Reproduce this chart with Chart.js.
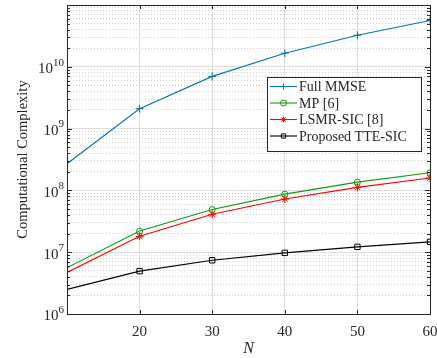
<!DOCTYPE html>
<html>
<head>
<meta charset="utf-8">
<script src="https://cdn.jsdelivr.net/npm/chart.js@4"></script>
<style>
  html, body { margin: 0; padding: 0; background: #fff; }
  #wrap { width: 437px; height: 358px; }
</style>
</head>
<body>
<div id="wrap"><canvas id="cplx" width="437" height="358"></canvas></div>
<script>
// values
const nValues = [10, 20, 30, 40, 50, 60];
const fullMMSE = [2.7e8, 2.1e9, 7.0e9, 1.66e10, 3.24e10, 5.6e10];
const mp = [5.6e6, 2.2e7, 4.9e7, 8.7e7, 1.36e8, 1.93e8];
const lsmrSIC = [4.7e6, 1.81e7, 4.1e7, 7.25e7, 1.12e8, 1.59e8];
const tteSIC = [2.5e6, 4.94e6, 7.4e6, 9.75e6, 1.22e7, 1.47e7];
const seriesNames = ['Full MMSE', 'MP [6]', 'LSMR-SIC [8]', 'Proposed TTE-SIC'];
const yDecades = [6, 7, 8, 9, 10];
const xTicks = [10, 20, 30, 40, 50, 60];

const FONT = '"Liberation Serif", "Times New Roman", serif';
const AXIS = '#262626';

function pts(ys) {
    return nValues.map((n, i) => ({ x: n, y: ys[i] }));
}

// marker hidden at N = 10 like the original
const rad = r => (c => c.dataIndex === 0 ? 0 : r);

function makeSet(label, ys, color, style, r, fill) {
    return {
        label: label,
        data: pts(ys),
        borderColor: color,
        backgroundColor: fill,
        pointStyle: style,
        pointRadius: rad(r),
        pointBorderColor: color,
        pointBackgroundColor: fill,
        pointBorderWidth: 1,
        borderWidth: 1.1,
        tension: 0
    };
}

const datasets = [
    makeSet(seriesNames[0], fullMMSE, '#0072BD', 'cross', 4, '#0072BD'),
    makeSet(seriesNames[1], mp, '#119a11', 'circle', 3, 'rgba(0,0,0,0)'),
    makeSet(seriesNames[2], lsmrSIC, '#ff0000', 'star', 4, '#ff0000'),
    makeSet(seriesNames[3], tteSIC, '#000000', 'rect', 3.8, 'rgba(0,0,0,0)')
];

const isMajor = v => Math.abs(Math.log10(v) - Math.round(Math.log10(v))) < 1e-9;

// box, inner ticks, y labels with superscripts and legend
const decorPlugin = {
    id: 'decor',
    afterDraw(chart) {
        const c = chart.ctx;
        const a = chart.chartArea;
        const ys = chart.scales.y;
        const xs = chart.scales.x;
        c.save();
        c.strokeStyle = AXIS;
        c.lineWidth = 1;
        c.strokeRect(Math.round(a.left) + 0.5, Math.round(a.top) + 0.5,
            Math.round(a.right - a.left), Math.round(a.bottom - a.top));

        // inward ticks
        c.beginPath();
        ys.ticks.forEach(t => {
            const y = Math.round(ys.getPixelForValue(t.value)) + 0.5;
            const len = isMajor(t.value) ? 5 : 3;
            c.moveTo(a.left, y); c.lineTo(a.left + len, y);
            c.moveTo(a.right, y); c.lineTo(a.right - len, y);
        });
        xTicks.forEach(v => {
            const x = Math.round(xs.getPixelForValue(v)) + 0.5;
            c.moveTo(x, a.bottom); c.lineTo(x, a.bottom - 4);
            c.moveTo(x, a.top); c.lineTo(x, a.top + 4);
        });
        c.stroke();

        // y tick labels 10^n
        c.fillStyle = AXIS;
        c.textBaseline = 'middle';
        yDecades.forEach(e => {
            const y = ys.getPixelForValue(Math.pow(10, e));
            const sup = String(e);
            c.font = '11px ' + FONT;
            const sw = c.measureText(sup).width;
            const right = a.left - 3;
            c.textAlign = 'left';
            c.fillText(sup, right - sw, y - 4);
            c.font = '15px ' + FONT;
            c.textAlign = 'right';
            c.fillText('10', right - sw, y + 2.5);
        });

        // legend
        const lx = 267, ly = 77, lw = 154, lh = 74;
        c.fillStyle = '#fff';
        c.fillRect(lx, ly, lw, lh);
        c.strokeStyle = AXIS;
        c.lineWidth = 1;
        c.strokeRect(lx + 0.5, ly + 0.5, lw, lh);
        const rows = [86.5, 103, 119.5, 136];
        chart.data.datasets.forEach((ds, i) => {
            const y = rows[i];
            c.strokeStyle = ds.borderColor;
            c.lineWidth = 1.1;
            c.beginPath();
            c.moveTo(270, y); c.lineTo(297, y);
            c.stroke();
            c.fillStyle = ds.pointBackgroundColor;
            c.lineWidth = 1;
            Chart.helpers.drawPoint(c, {
                pointStyle: ds.pointStyle,
                radius: ds.pointStyle === 'rect' ? 3 : 3,
                rotation: 0,
                borderWidth: 1
            }, 283.5, y);
            c.fillStyle = AXIS;
            c.font = '14px ' + FONT;
            c.textAlign = 'left';
            c.textBaseline = 'middle';
            c.fillText(ds.label, 299, y + 1);
        });
        c.restore();
    }
};

new Chart(document.getElementById('cplx').getContext('2d'), {
    type: 'line',
    data: { datasets: datasets },
    plugins: [decorPlugin],
    options: {
        responsive: false,
        maintainAspectRatio: false,
        animation: false,
        layout: { padding: { top: 4, right: 7, left: 0, bottom: 0 } },
        plugins: {
            legend: { display: false },
            tooltip: { enabled: false }
        },
        scales: {
            x: {
                type: 'linear',
                min: 10,
                max: 60,
                afterBuildTicks: s => { s.ticks = xTicks.map(v => ({ value: v })); },
                afterFit: s => { s.height = 44; s.paddingLeft = 0; s.paddingRight = 0; },
                grid: { color: '#dedede', lineWidth: 1, drawTicks: false },
                border: { display: false },
                ticks: {
                    padding: 9,
                    color: AXIS,
                    font: { family: FONT, size: 15 },
                    maxRotation: 0,
                    callback: v => (v === 10 ? '' : String(v))
                },
                title: {
                    display: true,
                    text: 'N',
                    color: AXIS,
                    font: { family: FONT, size: 16, style: 'italic' },
                    padding: { top: 0, bottom: 0 }
                }
            },
            y: {
                type: 'logarithmic',
                min: 1e6,
                max: 1e11,
                afterBuildTicks: s => {
                    const t = [];
                    for (let e = 6; e <= 10; e++) {
                        for (let k = 1; k <= 9; k++) t.push({ value: k * Math.pow(10, e), major: k === 1 });
                    }
                    t.push({ value: 1e11, major: true });
                    s.ticks = t;
                },
                afterFit: s => { s.width = 67; s.paddingTop = 0; s.paddingBottom = 0; },
                grid: {
                    drawTicks: false,
                    color: c => (c.tick && isMajor(c.tick.value) ? '#dedede' : '#cfcfcf'),
                    lineWidth: 1
                },
                border: {
                    display: false,
                    dash: c => (c.tick && !isMajor(c.tick.value) ? [1, 2] : [])
                },
                ticks: { display: false },
                title: {
                    display: true,
                    text: 'Computational Complexity',
                    color: AXIS,
                    font: { family: FONT, size: 14.5 },
                    padding: { top: 14, bottom: 0 }
                }
            }
        }
    }
});
</script>
</body>
</html>
